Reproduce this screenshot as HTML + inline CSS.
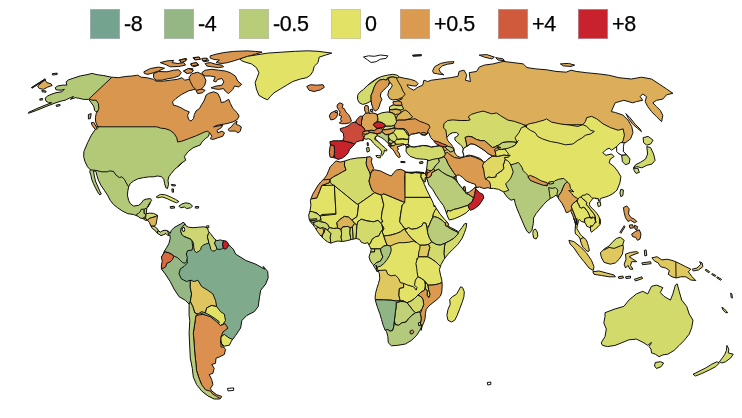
<!DOCTYPE html>
<html><head><meta charset="utf-8"><title>Map</title>
<style>
html,body{margin:0;padding:0;background:#fff;}
body{width:742px;height:418px;position:relative;overflow:hidden;font-family:"Liberation Sans",Arial,sans-serif;}
.sw{position:absolute;top:9px;width:30px;height:30px;box-sizing:border-box;border:1px solid rgba(185,185,200,0.55);}
.lb{position:absolute;top:12.5px;font-size:21.5px;line-height:22px;color:#000;white-space:nowrap;letter-spacing:-0.4px;-webkit-text-stroke:0.25px #000;}
svg{position:absolute;left:0;top:0;}
svg path{stroke:#111;stroke-width:1;stroke-linejoin:round;}
</style></head><body>
<div class="sw" style="left:90px;background:#74a38f"></div><div class="lb" style="left:124px">-8</div>
<div class="sw" style="left:164px;background:#95b783"></div><div class="lb" style="left:198px">-4</div>
<div class="sw" style="left:239px;background:#b9cc7a"></div><div class="lb" style="left:273px">-0.5</div>
<div class="sw" style="left:331px;background:#e2e266"></div><div class="lb" style="left:365px">0</div>
<div class="sw" style="left:400px;background:#da9a50"></div><div class="lb" style="left:434px">+0.5</div>
<div class="sw" style="left:498px;background:#cf5a3c"></div><div class="lb" style="left:532px">+4</div>
<div class="sw" style="left:578px;background:#c8232d"></div><div class="lb" style="left:612px">+8</div>

<svg width="742" height="418" viewBox="0 0 742 418">
<defs><clipPath id="c0_0"><path d="M112.1,77.2L118.4,77.7L125.1,76.5L131.8,76.0L137.7,75.2L141.1,77.2L146.9,77.7L153.6,79.4L156.1,81.1L163.7,81.1L170.4,80.2L177.1,79.4L182.1,77.7L184.6,80.2L188.8,79.4L193.0,76.0L195.5,72.7L196.9,76.0L195.5,80.2L198.0,81.9L197.7,82.5L200.2,85.1L199.4,86.7L195.2,89.2L188.5,90.9L181.8,94.3L175.9,98.5L172.6,101.8L173.4,105.2L176.8,106.0L180.9,107.7L185.1,110.2L189.3,111.9L187.6,115.2L188.5,119.4L191.0,121.1L193.5,118.6L194.4,114.4L196.0,111.0L199.4,108.5L201.9,104.3L204.4,100.1L206.1,95.1L208.6,93.4L213.6,91.8L217.8,93.4L220.3,98.5L221.2,102.6L224.5,101.8L228.7,99.3L230.4,103.5L232.9,108.5L237.1,112.7L239.1,116.1L237.4,119.4L232.9,121.9L227.0,123.6L222.0,124.4L217.0,125.3L213.6,126.9L217.8,126.1L222.8,125.3L221.2,127.8L217.0,130.3L217.8,132.8L222.0,131.1L224.5,132.8L222.8,136.2L217.8,137.8L212.8,139.5L210.3,138.7L211.9,136.2L210.3,133.6L209.4,132.8L208.6,136.2L205.2,138.7L201.9,142.0L200.2,145.0L193.2,147.7L188.2,151.5L184.4,156.5L185.7,160.3L181.9,162.8L178.1,166.6L182.2,162.6L178.9,165.9L174.7,169.3L171.3,173.5L168.8,176.8L168.0,180.2L168.5,184.4L167.5,188.5L165.8,187.7L164.6,183.5L163.8,179.3L161.3,176.5L157.1,176.0L153.7,176.8L149.5,176.8L143.7,177.6L137.8,178.8L133.6,181.0L130.3,183.5L128.6,186.9L127.8,191.1L127.4,195.2L128.6,200.3L130.3,203.6L133.6,206.1L138.6,205.3L141.2,203.3L143.3,200.3L146.2,199.1L150.4,198.6L151.7,200.3L149.5,203.3L147.9,207.0L150.4,202.5L148.1,205.9L146.8,208.4L146.4,212.6L146.4,213.8L149.3,213.1L153.5,213.4L157.6,215.4L156.8,220.1L156.0,224.3L154.3,226.2L156.8,228.2L158.5,230.5L160.2,232.2L162.7,230.7L166.0,230.2L168.9,231.5L170.2,233.5L171.2,230.7L173.9,227.7L177.8,225.5L181.1,223.8L183.0,222.3L184.6,223.2L186.1,226.0L188.6,227.2L193.7,227.7L198.7,227.2L203.7,226.8L207.4,227.7L208.4,231.0L210.4,233.5L212.4,236.1L214.6,239.1L216.8,240.6L220.5,239.9L222.5,240.6L226.4,241.1L228.9,244.8L233.2,249.1L235.7,254.1L245.7,260.4L255.8,264.2L264.6,269.2L263.2,266.4L267.7,271.4L268.2,277.7L265.7,284.0L260.7,290.3L259.4,297.8L258.2,306.6L254.4,311.6L246.9,315.4L241.9,320.4L240.6,328.0L235.6,335.5L231.8,340.5L231.0,341.9L229.3,345.2L224.3,346.2L221.0,343.2L220.5,340.6L222.5,345.7L225.5,349.4L224.3,354.5L219.2,357.0L216.0,358.2L215.5,363.3L211.7,364.5L214.2,368.3L212.9,373.3L209.2,374.6L211.7,379.6L212.9,384.6L210.4,388.4L211.7,390.9L216.7,394.7L221.7,396.4L220.5,398.5L219.2,399.0L214.2,399.0L207.9,395.9L201.6,390.9L196.6,384.6L193.3,377.1L192.3,368.3L190.3,358.2L189.8,348.2L189.1,333.1L189.8,320.5L189.1,315.4L189.1,305.4L189.1,304.1L185.3,300.3L179.0,296.6L174.0,289.0L170.2,281.5L165.2,273.9L161.4,268.9L161.4,265.1L162.2,261.4L161.4,256.3L162.2,256.2L164.4,251.1L166.5,247.8L168.9,243.6L170.2,238.6L169.9,234.9L167.9,235.6L166.0,233.5L163.5,234.7L161.0,235.6L158.8,234.2L156.8,232.7L154.8,230.2L152.3,228.5L150.9,226.0L149.4,222.6L147.8,220.5L144.7,220.1L143.1,218.5L140.1,218.0L138.0,216.3L133.6,214.5L127.8,213.7L122.7,211.2L117.7,207.8L113.5,204.5L110.2,200.3L107.6,195.2L104.3,190.2L100.9,185.2L98.4,180.2L96.8,175.1L95.9,171.4L93.4,170.8L94.2,175.1L95.4,181.0L97.6,186.0L99.8,191.1L101.3,193.9L99.8,194.9L97.6,191.9L95.4,187.7L93.4,183.5L91.7,179.3L90.9,175.1L89.7,171.8L90.4,169.8L87.5,166.8L85.0,161.7L83.7,156.7L83.9,151.5L87.6,142.7L91.4,135.1L95.2,129.6L97.2,126.3L98.8,127.0L97.4,126.2L95.7,122.0L95.4,117.8L96.2,113.6L97.4,111.1L96.2,111.9L94.6,110.3L93.7,106.1L91.2,102.7L88.7,99.4L83.7,99.4L78.6,98.2L75.3,97.7L70.3,99.4L73.6,96.5L70.3,97.7L65.2,100.2L61.1,101.1L56.0,102.7L45.1,106.9L36.8,110.3L28.4,113.3L28.7,112.3L36.8,108.6L45.1,105.2L51.8,102.7L48.5,102.7L46.0,101.1L45.1,98.2L47.6,96.0L51.0,94.4L56.0,92.7L61.9,91.8L64.4,89.3L61.1,90.2L56.0,89.8L55.2,87.6L57.7,86.0L62.7,85.1L66.9,85.1L66.1,81.8L68.6,79.8L73.6,78.1L80.3,75.9L87.0,74.7L92.1,73.4L97.1,74.7L103.8,75.6L111.8,77.3Z"/></clipPath><clipPath id="c1_0"><path d="M336.0,160.9L340.2,162.1L345.2,160.9L350.3,159.2L357.0,158.0L365.4,157.5L367.0,157.0L370.0,156.7L372.1,158.4L371.2,161.7L372.4,165.1L373.7,168.4L372.1,170.9L374.6,169.8L380.4,170.9L387.1,174.3L391.3,176.0L393.8,172.6L396.4,170.1L400.5,169.3L404.7,170.9L405.6,172.6L410.6,172.6L417.3,171.8L424.0,172.6L405.0,172.1L408.4,172.6L411.7,173.5L415.1,172.6L418.4,173.0L421.4,173.3L420.8,177.0L423.5,182.2L424.3,184.4L426.8,190.2L430.2,196.9L432.7,201.9L434.4,207.0L434.4,205.0L436.9,209.2L440.2,214.2L444.4,219.2L446.9,221.8L448.6,224.3L448.1,225.9L450.3,227.3L455.3,229.8L458.6,231.8L462.0,227.6L464.5,223.8L466.7,223.4L466.2,227.6L464.5,232.6L462.0,238.5L457.8,244.4L452.8,249.4L447.8,254.4L443.9,259.5L441.1,264.5L439.4,269.5L440.5,275.1L441.8,280.1L442.2,285.1L441.8,291.8L440.5,296.0L437.1,299.4L432.9,302.7L428.8,306.1L426.2,309.4L425.4,313.6L425.1,318.6L423.7,322.8L422.1,326.2L421.2,330.4L421.7,326.4L419.9,330.2L416.7,335.2L411.6,340.3L405.4,344.0L397.8,345.3L391.5,345.8L388.3,342.8L387.8,336.5L386.5,331.5L385.2,330.4L383.2,325.3L381.5,319.5L379.8,313.6L377.6,307.7L376.0,302.7L375.1,298.5L375.5,293.5L376.8,288.5L378.5,283.4L379.8,278.4L379.3,273.4L377.6,269.2L376.0,265.0L377.4,272.0L375.4,268.7L372.9,264.5L370.4,261.1L369.0,256.9L370.4,252.8L371.2,249.4L369.5,246.1L367.9,242.7L364.5,243.5L361.2,242.2L359.5,239.4L356.1,238.5L351.9,239.4L347.8,240.5L342.7,241.5L337.7,241.0L333.5,242.2L331.0,243.2L327.6,241.9L324.3,239.4L320.9,236.0L317.6,231.8L315.1,227.6L312.6,224.3L310.4,221.8L309.2,219.2L308.7,215.1L310.1,210.4L310.1,210.3L310.9,205.3L310.4,200.3L311.4,197.8L312.6,194.4L315.1,190.2L317.6,186.0L320.9,181.8L324.3,178.5L326.8,175.1L328.5,170.9L330.2,166.8L332.7,164.2Z"/></clipPath><clipPath id="c2_0"><path d="M421.3,173.5L420.9,176.8L424.1,181.7L425.0,182.2L426.0,179.3L426.5,178.2L427.0,178.8L428.8,185.0L432.7,189.4L436.0,195.2L439.4,200.3L443.2,205.3L445.2,209.5L446.9,214.5L447.8,217.0L449.4,220.0L454.5,218.7L460.3,216.2L466.2,212.8L469.5,209.5L470.4,210.3L474.6,208.6L478.8,205.3L481.3,201.9L483.8,197.8L482.9,194.4L479.6,192.7L476.2,189.4L475.1,187.2L472.9,189.4L469.5,191.9L466.2,193.2L465.7,191.1L465.0,186.5L463.3,186.9L463.3,189.4L461.2,186.9L457.8,182.7L456.1,178.8L456.1,176.5L457.0,175.1L459.5,175.1L462.8,177.6L466.2,181.0L470.4,182.7L475.4,184.4L476.2,187.7L479.6,186.9L483.8,188.5L488.0,187.7L490.5,188.5L493.4,188.4L498.4,189.3L503.5,191.8L505.1,194.3L507.6,197.6L511.0,200.2L514.4,199.3L515.2,203.5L516.9,208.5L519.4,214.4L521.9,220.3L524.4,226.1L526.9,231.2L529.4,233.3L531.9,230.3L533.3,223.6L533.6,217.8L536.1,213.6L539.5,209.4L543.7,204.4L547.0,201.0L550.4,198.5L553.7,196.8L556.2,195.1L557.9,197.6L559.6,200.2L562.1,203.5L564.6,208.5L566.3,212.7L568.8,211.9L571.3,209.4L570.9,211.4L572.6,215.1L573.8,218.5L575.1,221.8L575.9,225.0L573.8,218.4L575.1,221.7L575.5,225.1L575.2,228.4L575.1,231.8L575.5,233.9L577.2,235.1L578.9,236.8L580.1,238.9L580.5,241.0L581.4,243.9L583.0,247.3L585.1,249.4L587.2,251.2L588.9,251.2L589.3,250.0L588.5,246.4L587.6,243.5L586.8,241.0L585.6,239.3L583.9,237.6L582.2,236.4L580.5,234.7L579.3,232.6L578.0,230.5L576.8,228.4L577.2,225.9L578.0,223.4L578.4,220.2L579.7,219.6L580.5,220.9L581.8,221.7L583.9,222.1L584.7,223.0L585.6,223.4L586.8,226.3L588.9,227.1L590.6,228.4L590.6,230.5L591.4,232.2L593.1,230.9L595.6,228.8L598.1,226.7L600.2,224.2L600.6,221.7L599.8,218.4L599.4,223.5L599.8,220.2L599.0,216.8L597.3,213.9L595.2,211.4L592.7,208.9L590.6,206.8L589.3,204.7L589.7,202.6L591.4,200.5L592.7,198.4L594.4,198.0L596.9,198.8L598.1,198.4L598.5,200.9L600.0,201.1L600.2,198.8L601.9,198.0L605.2,197.1L608.6,195.9L611.9,194.2L615.3,191.7L617.0,190.0L619.9,182.9L620.9,176.6L617.9,171.6L614.1,166.6L609.1,162.8L610.4,159.0L614.1,156.5L611.6,154.0L605.9,155.3L602.8,152.8L605.9,149.7L609.1,148.2L611.6,150.2L616.7,146.5L616.7,151.5L619.2,154.0L621.7,155.3L622.4,161.6L625.5,164.8L629.2,163.3L630.0,159.0L626.7,154.8L623.4,151.5L623.4,146.5L624.2,142.7L625.5,142.7L630.5,138.9L633.0,132.6L631.7,126.4L628.0,120.1L622.9,115.1L615.4,112.5L611.3,111.6L615.1,102.8L623.9,100.3L632.7,102.8L636.4,101.6L642.7,100.3L640.2,96.6L642.7,94.0L646.5,96.6L645.2,101.6L647.7,106.6L651.5,111.6L656.5,116.7L661.6,121.7L662.8,115.4L660.3,110.4L656.5,106.6L652.8,102.8L656.5,100.3L662.8,99.1L666.6,94.8L672.9,93.3L666.6,89.0L659.1,84.0L651.5,79.0L641.5,77.2L631.4,79.0L618.8,77.7L608.8,75.2L598.7,73.9L586.2,72.7L576.1,71.4L571.1,70.2L566.1,72.2L556.0,71.4L545.8,69.7L535.8,68.9L527.0,67.6L523.2,63.9L513.2,62.6L503.1,61.4L493.1,63.9L484.3,65.1L479.2,67.1L476.7,71.4L469.2,72.7L470.4,81.5L465.4,80.2L466.7,75.2L464.1,70.2L459.1,71.4L457.9,76.4L450.3,77.7L440.3,79.0L431.5,80.2L427.7,81.5L423.9,80.2L422.7,85.2L418.8,86.8L417.1,87.7L413.8,90.2L410.4,88.5L407.9,86.8L407.1,84.8L413.8,86.0L416.3,86.0L418.0,83.5L415.5,81.0L410.4,79.3L403.7,78.1L399.5,77.1L397.0,75.1L392.8,74.3L387.8,75.1L381.9,76.4L376.9,78.5L371.9,81.8L367.7,85.2L363.5,89.4L359.3,92.7L357.6,95.2L357.6,99.4L359.3,102.8L362.7,104.4L366.0,103.6L369.4,101.9L371.1,101.1L371.9,105.3L373.2,108.6L375.2,111.1L377.8,109.5L379.4,106.1L380.3,102.8L381.9,99.4L380.3,96.1L381.1,92.7L383.6,90.2L386.1,87.7L388.6,85.2L389.8,82.1L392.3,85.2L391.2,87.7L388.6,91.0L387.8,95.2L389.5,98.6L392.8,99.9L397.9,99.4L402.1,97.7L402.1,98.9L399.5,99.9L397.0,101.1L392.8,101.9L393.7,104.4L389.5,106.9L389.5,109.0L389.5,112.0L387.0,112.0L381.9,112.8L377.8,114.5L372.7,112.8L369.4,113.6L368.5,109.5L368.2,106.1L366.0,105.3L364.4,106.9L364.9,111.1L366.0,112.8L362.7,116.2L360.2,116.2L356.8,119.5L355.1,122.9L355.8,121.8L351.5,123.0L348.9,125.5L344.6,127.4L340.2,128.7L340.8,131.2L343.3,133.1L343.9,137.5L342.7,140.8L338.3,140.8L333.3,140.8L329.8,141.8L330.5,145.0L329.8,148.1L329.3,152.5L330.1,157.1L333.0,157.5L335.2,158.1L338.3,159.4L342.1,158.1L345.8,155.6L348.3,152.5L349.6,149.4L352.1,146.9L354.3,144.6L356.5,141.8L360.2,140.8L363.4,140.6L364.0,138.3L365.9,139.3L368.4,138.7L371.1,140.0L373.4,143.1L376.5,146.2L379.7,148.7L381.9,151.9L380.9,154.4L382.2,155.6L384.0,152.5L384.4,150.0L386.2,151.2L387.2,150.0L384.7,147.5L381.5,145.0L378.4,141.8L375.9,139.3L375.3,136.8L377.8,135.8L380.3,137.1L382.2,138.1L384.7,140.0L387.8,143.1L389.1,144.3L388.4,145.4L389.7,146.5L390.7,147.9L392.2,148.7L394.1,151.2L395.9,154.4L398.5,157.5L400.3,156.9L399.1,153.1L397.0,150.4L398.5,149.4L397.2,146.9L399.7,146.2L402.2,145.0L403.2,145.0L405.0,144.3L406.3,146.9L406.0,151.2L407.5,153.7L410.1,156.3L416.8,158.7L423.5,159.2L427.6,159.7L427.1,165.1L426.5,169.8L425.5,173.3Z"/></clipPath><clipPath id="c3_0"><path d="M600.3,252.9L604.1,249.1L609.1,245.9L612.9,241.6L616.7,238.3L620.4,237.3L624.2,240.3L622.9,244.1L623.4,247.9L622.4,254.1L619.2,259.2L615.4,262.9L610.4,264.2L604.1,262.4L601.6,257.9Z"/></clipPath><clipPath id="c3_1"><path d="M651.9,257.9L656.9,256.7L661.9,259.9L666.9,259.2L672.0,260.4L675.7,261.7L680.8,264.2L685.8,266.7L690.8,269.2L688.3,271.7L692.1,276.8L695.8,280.5L690.8,280.0L685.8,276.8L680.8,276.8L676.2,278.0L672.0,276.8L668.2,274.3L669.4,270.5L665.7,268.0L660.6,266.7L658.1,262.9L654.4,260.9Z"/></clipPath></defs>
<g clip-path="url(#c0_0)">
<path fill="#d8964e" d="M0.0,40.0L330.0,40.0L330.0,418.0L0.0,418.0Z"/>
<path fill="#7fab8c" d="M155.1,235.0L280.8,235.0L280.8,345.6L205.4,345.6L205.4,315.4L155.1,290.3Z"/>
<path fill="#b2c977" d="M75.1,126.8L156.8,126.8L160.5,128.1L165.0,128.6L170.1,130.3L174.2,133.6L176.8,137.8L177.6,142.0L181.8,141.2L188.5,138.7L195.2,136.2L201.1,133.6L204.4,132.0L207.8,131.1L209.4,132.8L210.3,134.0L209.6,137.0L211.9,147.1L220.9,192.9L75.1,192.9Z"/>
<path fill="#b2c977" d="M111.8,77.3L89.0,98.9L92.1,100.2L96.2,100.2L98.4,103.6L98.8,108.6L97.4,111.9L92.1,115.3L20.0,117.0L20.0,68.4L103.8,68.4Z"/>
<path fill="#b2c977" d="M86.7,169.8L90.4,169.8L95.9,170.4L101.8,171.8L107.6,171.8L109.3,170.9L113.5,171.4L116.0,175.1L119.4,177.6L121.9,176.8L124.4,179.3L126.1,182.7L128.6,186.9L133.6,187.7L163.8,200.3L163.8,225.4L86.7,225.4Z"/>
<path fill="#b9cc7a" d="M136.7,214.3L138.4,213.4L140.1,211.8L141.4,209.2L144.2,209.2L144.2,213.4L145.9,214.3L145.9,215.9L143.4,218.0L140.1,220.1L136.7,218.5Z"/>
<path fill="#b9cc7a" d="M144.2,209.2L146.4,208.1L148.4,210.1L146.8,213.4L145.9,214.3L144.2,213.4Z"/>
<path fill="#d3d972" d="M145.9,214.3L146.8,212.6L153.5,211.8L159.3,214.3L156.8,215.8L155.1,216.8L151.8,217.6L149.3,218.5L147.6,220.1L145.4,218.5L145.9,215.9Z"/>
<path fill="#b9cc7a" d="M143.4,218.0L145.4,218.5L147.6,220.1L146.8,221.8L142.6,221.0Z"/>
<path fill="#dcb458" d="M147.6,220.1L149.3,218.5L151.8,217.6L155.1,216.8L156.8,215.8L160.2,215.1L158.5,224.3L154.3,226.3L151.4,226.0L146.8,222.6Z"/>
<path fill="#b9cc7a" d="M151.4,226.0L154.3,226.3L158.5,225.2L160.2,231.0L157.6,231.0L157.1,234.4L150.1,228.5Z"/>
<path fill="#b9cc7a" d="M157.6,231.0L160.2,231.0L162.7,229.4L166.0,228.8L169.4,230.5L169.9,234.4L170.2,236.9L160.2,236.9L157.1,234.4Z"/>
<path fill="#95b783" d="M155.1,263.9L155.1,250.1L185.8,250.1L187.3,263.1L184.0,266.4L180.3,268.9L179.0,273.9L181.5,279.0L186.6,281.5L190.3,280.2L190.3,287.8L191.6,294.0L190.3,301.6L189.1,305.9L180.3,305.4L155.1,277.7Z"/>
<path fill="#95b783" d="M165.6,252.0L162.5,251.3L162.5,238.8L169.4,236.9L168.1,232.5L166.9,229.8L167.5,223.8L183.8,220.0L186.9,223.1L185.1,223.8L183.2,226.3L181.3,228.1L180.7,231.3L181.9,234.4L183.8,236.3L186.9,237.5L190.1,238.8L192.0,240.7L192.3,243.8L192.8,246.9L192.0,250.1L187.6,250.7L186.3,253.8L187.3,257.6L186.6,261.4L185.1,263.2L182.6,262.6L180.7,260.7L177.5,257.6L174.4,256.3L171.9,254.5L168.8,252.8Z"/>
<path fill="#cdd672" d="M185.1,223.8L186.9,222.5L210.1,222.5L210.1,231.3L208.3,233.8L207.4,236.9L208.3,240.1L208.9,243.2L206.4,243.8L203.2,245.1L201.4,246.9L200.7,249.5L198.9,251.3L196.3,252.6L194.5,250.7L193.8,247.6L193.6,243.8L192.3,240.7L190.1,238.8L186.9,237.5L183.8,236.3L181.9,234.4L180.7,231.3L181.3,228.1L183.2,226.3Z"/>
<path fill="#ffffff" d="M182.7,227.8L184.1,227.3L184.7,229.4L184.2,231.5L182.9,231.3L182.4,229.4Z"/>
<path fill="#cdd672" d="M208.3,233.8L210.1,231.3L215.1,232.5L216.4,240.1L215.8,240.7L214.5,243.2L215.8,245.7L217.0,248.8L215.1,250.7L212.6,251.1L210.8,249.5L210.1,246.3L208.9,243.2L208.3,240.1L207.4,236.9Z"/>
<path fill="#86ae92" d="M215.8,240.7L216.4,237.5L222.7,237.5L223.3,241.3L222.7,244.4L223.3,247.6L221.4,249.1L218.9,249.5L217.0,248.8L215.8,245.7L214.5,243.2Z"/>
<path fill="#c8232d" d="M223.3,241.3L223.3,238.8L230.2,240.1L228.7,244.4L227.7,246.9L225.8,249.1L223.7,248.8L223.3,247.6L222.7,244.4Z"/>
<path fill="#d56a3f" d="M157.5,257.6L163.8,253.2L165.6,252.0L168.8,252.8L171.9,254.5L173.8,256.3L172.5,259.5L170.0,262.0L166.9,263.2L165.6,267.0L163.1,268.3L157.5,268.3Z"/>
<path fill="#dfc55f" d="M190.3,280.2L194.1,281.5L197.9,280.2L201.6,286.5L207.9,290.3L212.9,294.0L215.5,300.3L216.7,306.6L211.7,305.4L206.7,307.9L205.4,312.9L201.6,311.6L197.9,314.1L194.8,312.9L192.8,306.6L190.3,301.6L191.6,294.0L190.3,287.8Z"/>
<path fill="#e2e266" d="M206.7,307.9L211.7,305.4L216.7,306.6L220.5,311.6L224.3,314.1L225.5,320.4L223.0,324.2L218.0,326.7L219.2,321.7L214.2,317.9L207.9,314.1L205.4,312.9Z"/>
<path fill="#dc9050" d="M195.9,315.5L202.9,314.3L210.4,316.8L216.7,321.8L220.5,325.6L225.0,323.6L228.0,328.1L223.0,331.9L221.0,336.9L221.0,343.2L235.6,345.7L235.6,403.5L205.4,403.5L201.6,384.6L199.1,378.4L196.6,370.8L195.9,363.3L194.8,353.2L194.1,343.2L193.3,333.1L194.8,323.1Z"/>
<path fill="#b9cc7a" d="M189.1,304.1L190.3,301.6L192.8,306.6L194.8,312.9L197.9,314.1L195.9,315.5L194.8,323.1L193.3,333.1L194.1,343.2L194.8,353.2L195.9,363.3L196.6,370.8L199.1,378.4L201.6,384.6L205.4,389.7L210.9,391.4L212.4,393.9L216.7,396.4L221.7,399.7L205.4,403.5L180.3,388.4L180.3,313.0Z"/>
<path fill="#e2e266" d="M221.0,336.9L224.3,334.4L229.3,338.1L235.6,340.6L235.6,348.2L221.0,346.9Z"/>
</g>
<path fill="none" d="M112.1,77.2L118.4,77.7L125.1,76.5L131.8,76.0L137.7,75.2L141.1,77.2L146.9,77.7L153.6,79.4L156.1,81.1L163.7,81.1L170.4,80.2L177.1,79.4L182.1,77.7L184.6,80.2L188.8,79.4L193.0,76.0L195.5,72.7L196.9,76.0L195.5,80.2L198.0,81.9L197.7,82.5L200.2,85.1L199.4,86.7L195.2,89.2L188.5,90.9L181.8,94.3L175.9,98.5L172.6,101.8L173.4,105.2L176.8,106.0L180.9,107.7L185.1,110.2L189.3,111.9L187.6,115.2L188.5,119.4L191.0,121.1L193.5,118.6L194.4,114.4L196.0,111.0L199.4,108.5L201.9,104.3L204.4,100.1L206.1,95.1L208.6,93.4L213.6,91.8L217.8,93.4L220.3,98.5L221.2,102.6L224.5,101.8L228.7,99.3L230.4,103.5L232.9,108.5L237.1,112.7L239.1,116.1L237.4,119.4L232.9,121.9L227.0,123.6L222.0,124.4L217.0,125.3L213.6,126.9L217.8,126.1L222.8,125.3L221.2,127.8L217.0,130.3L217.8,132.8L222.0,131.1L224.5,132.8L222.8,136.2L217.8,137.8L212.8,139.5L210.3,138.7L211.9,136.2L210.3,133.6L209.4,132.8L208.6,136.2L205.2,138.7L201.9,142.0L200.2,145.0L193.2,147.7L188.2,151.5L184.4,156.5L185.7,160.3L181.9,162.8L178.1,166.6L182.2,162.6L178.9,165.9L174.7,169.3L171.3,173.5L168.8,176.8L168.0,180.2L168.5,184.4L167.5,188.5L165.8,187.7L164.6,183.5L163.8,179.3L161.3,176.5L157.1,176.0L153.7,176.8L149.5,176.8L143.7,177.6L137.8,178.8L133.6,181.0L130.3,183.5L128.6,186.9L127.8,191.1L127.4,195.2L128.6,200.3L130.3,203.6L133.6,206.1L138.6,205.3L141.2,203.3L143.3,200.3L146.2,199.1L150.4,198.6L151.7,200.3L149.5,203.3L147.9,207.0L150.4,202.5L148.1,205.9L146.8,208.4L146.4,212.6L146.4,213.8L149.3,213.1L153.5,213.4L157.6,215.4L156.8,220.1L156.0,224.3L154.3,226.2L156.8,228.2L158.5,230.5L160.2,232.2L162.7,230.7L166.0,230.2L168.9,231.5L170.2,233.5L171.2,230.7L173.9,227.7L177.8,225.5L181.1,223.8L183.0,222.3L184.6,223.2L186.1,226.0L188.6,227.2L193.7,227.7L198.7,227.2L203.7,226.8L207.4,227.7L208.4,231.0L210.4,233.5L212.4,236.1L214.6,239.1L216.8,240.6L220.5,239.9L222.5,240.6L226.4,241.1L228.9,244.8L233.2,249.1L235.7,254.1L245.7,260.4L255.8,264.2L264.6,269.2L263.2,266.4L267.7,271.4L268.2,277.7L265.7,284.0L260.7,290.3L259.4,297.8L258.2,306.6L254.4,311.6L246.9,315.4L241.9,320.4L240.6,328.0L235.6,335.5L231.8,340.5L231.0,341.9L229.3,345.2L224.3,346.2L221.0,343.2L220.5,340.6L222.5,345.7L225.5,349.4L224.3,354.5L219.2,357.0L216.0,358.2L215.5,363.3L211.7,364.5L214.2,368.3L212.9,373.3L209.2,374.6L211.7,379.6L212.9,384.6L210.4,388.4L211.7,390.9L216.7,394.7L221.7,396.4L220.5,398.5L219.2,399.0L214.2,399.0L207.9,395.9L201.6,390.9L196.6,384.6L193.3,377.1L192.3,368.3L190.3,358.2L189.8,348.2L189.1,333.1L189.8,320.5L189.1,315.4L189.1,305.4L189.1,304.1L185.3,300.3L179.0,296.6L174.0,289.0L170.2,281.5L165.2,273.9L161.4,268.9L161.4,265.1L162.2,261.4L161.4,256.3L162.2,256.2L164.4,251.1L166.5,247.8L168.9,243.6L170.2,238.6L169.9,234.9L167.9,235.6L166.0,233.5L163.5,234.7L161.0,235.6L158.8,234.2L156.8,232.7L154.8,230.2L152.3,228.5L150.9,226.0L149.4,222.6L147.8,220.5L144.7,220.1L143.1,218.5L140.1,218.0L138.0,216.3L133.6,214.5L127.8,213.7L122.7,211.2L117.7,207.8L113.5,204.5L110.2,200.3L107.6,195.2L104.3,190.2L100.9,185.2L98.4,180.2L96.8,175.1L95.9,171.4L93.4,170.8L94.2,175.1L95.4,181.0L97.6,186.0L99.8,191.1L101.3,193.9L99.8,194.9L97.6,191.9L95.4,187.7L93.4,183.5L91.7,179.3L90.9,175.1L89.7,171.8L90.4,169.8L87.5,166.8L85.0,161.7L83.7,156.7L83.9,151.5L87.6,142.7L91.4,135.1L95.2,129.6L97.2,126.3L98.8,127.0L97.4,126.2L95.7,122.0L95.4,117.8L96.2,113.6L97.4,111.1L96.2,111.9L94.6,110.3L93.7,106.1L91.2,102.7L88.7,99.4L83.7,99.4L78.6,98.2L75.3,97.7L70.3,99.4L73.6,96.5L70.3,97.7L65.2,100.2L61.1,101.1L56.0,102.7L45.1,106.9L36.8,110.3L28.4,113.3L28.7,112.3L36.8,108.6L45.1,105.2L51.8,102.7L48.5,102.7L46.0,101.1L45.1,98.2L47.6,96.0L51.0,94.4L56.0,92.7L61.9,91.8L64.4,89.3L61.1,90.2L56.0,89.8L55.2,87.6L57.7,86.0L62.7,85.1L66.9,85.1L66.1,81.8L68.6,79.8L73.6,78.1L80.3,75.9L87.0,74.7L92.1,73.4L97.1,74.7L103.8,75.6L111.8,77.3Z"/>
<path fill="#e2e266" d="M156.2,196.9L160.4,194.4L165.5,194.9L170.5,196.9L175.5,199.4L178.9,201.6L176.4,202.8L172.2,201.1L167.1,198.6L162.1,196.9L157.9,197.8Z"/>
<path fill="#b9cc7a" d="M171.3,184.4L175.5,184.9L175.2,186.0L171.8,185.7Z"/>
<path fill="#b9cc7a" d="M171.8,188.9L173.5,188.9L173.5,192.2L172.2,192.2Z"/>
<path fill="#dcb458" d="M170.2,206.6L174.2,206.3L174.7,208.0L170.5,208.3Z"/>
<path fill="#b9cc7a" d="M178.9,206.1L181.9,204.0L185.6,202.8L189.8,203.6L192.6,206.1L190.6,207.8L186.4,208.6L184.7,207.0L180.5,207.8Z"/>
<path fill="#b9cc7a" d="M195.3,206.6L198.6,206.5L198.6,208.1L195.3,208.1Z"/>
<path fill="#e2e266" d="M206.2,226.0L208.8,225.7L208.8,227.7L206.4,227.7Z"/>
<path fill="#ffffff" d="M227.5,388.4L233.6,387.9L233.6,390.4L228.0,390.9Z"/>
<path fill="#b9cc7a" d="M52.2,73.7L57.2,73.1L57.2,74.4L52.7,75.1Z"/>
<path fill="#b9cc7a" d="M39.8,98.9L42.6,98.5L42.6,99.9L39.8,100.2Z"/>
<path fill="#b9cc7a" d="M41.8,90.5L46.0,91.0L46.0,92.2L42.1,91.8Z"/>
<path fill="#b9cc7a" d="M56.0,105.2L59.9,104.4L60.2,105.6L56.5,106.6Z"/>
<path fill="#d8964e" d="M88.4,114.5L91.2,113.6L90.4,118.6L88.4,119.0Z"/>
<path fill="#d8964e" d="M91.2,122.8L93.7,122.3L97.4,128.7L95.4,129.5L92.4,125.7Z"/>
<path fill="#d8964e" d="M143.9,71.8L150.3,68.5L158.6,67.1L164.5,68.2L158.6,71.0L153.6,72.7L147.8,74.4L144.4,73.5Z"/>
<path fill="#d8964e" d="M153.6,73.5L158.6,71.5L167.0,71.8L173.7,70.2L178.8,69.8L181.3,72.7L178.8,76.0L173.7,77.7L167.0,78.9L162.0,80.2L156.1,80.2L153.6,77.7Z"/>
<path fill="#d8964e" d="M160.3,62.6L167.0,60.9L173.7,60.4L172.1,62.6L177.9,63.5L183.8,62.6L185.5,65.1L178.8,66.5L170.4,66.8L166.2,64.8Z"/>
<path fill="#d8964e" d="M178.8,60.1L186.3,58.4L186.8,59.8L180.1,61.4Z"/>
<path fill="#d8964e" d="M193.0,57.6L198.9,57.1L200.5,59.3L194.7,59.8Z"/>
<path fill="#d8964e" d="M190.5,64.3L196.4,62.6L198.9,65.1L193.8,66.8Z"/>
<path fill="#d8964e" d="M183.8,71.0L188.8,68.5L193.0,68.8L191.3,71.8L186.3,73.2Z"/>
<path fill="#d8964e" d="M202.2,59.8L207.2,58.4L208.9,60.9L203.9,61.8Z"/>
<path fill="#d8964e" d="M210.2,55.9L216.0,54.2L223.6,52.6L233.6,51.4L247.0,50.9L255.4,51.4L262.1,52.1L255.4,54.2L247.0,56.8L240.3,58.8L233.6,60.9L227.8,62.6L221.9,63.5L216.0,62.6L219.4,60.1L213.5,59.3L210.2,58.1Z"/>
<path fill="#d8964e" d="M205.1,63.5L210.2,62.6L216.0,64.3L221.9,65.1L223.6,66.8L218.5,67.6L211.8,66.8L206.8,66.0Z"/>
<path fill="#d8964e" d="M194.2,57.6L199.3,57.1L200.1,59.3L195.1,59.8Z"/>
<path fill="#d8964e" d="M201.8,58.4L206.8,58.1L206.8,60.4L202.6,60.9Z"/>
<path fill="#d8964e" d="M190.9,63.5L196.8,62.6L197.6,65.1L191.7,66.0Z"/>
<path fill="#d8964e" d="M180.0,60.1L185.0,58.8L185.9,60.9L180.8,62.6Z"/>
<path fill="#d8964e" d="M201.8,72.7L205.1,70.2L211.8,69.3L218.5,70.2L225.2,71.0L230.3,72.7L235.3,76.0L237.8,81.1L241.7,84.4L238.6,86.9L234.5,86.1L232.8,89.4L228.6,93.6L225.2,91.1L223.6,88.6L218.5,89.4L213.5,88.6L211.0,87.8L216.0,86.1L221.9,85.2L223.9,81.9L221.9,78.5L217.7,79.4L216.0,81.9L213.5,81.1L215.2,76.9L210.2,76.0L205.1,76.0L202.6,74.4Z"/>
<path fill="#d8964e" d="M183.4,71.0L188.4,68.5L193.4,70.2L191.7,72.7L187.5,73.5Z"/>
<path fill="#d8964e" d="M195.9,90.3L200.1,88.6L205.1,90.3L202.6,92.8L197.6,93.6Z"/>
<path fill="#d8964e" d="M227.9,129.5L231.2,126.9L234.6,122.8L237.1,121.1L236.2,124.4L238.8,125.3L241.3,126.9L240.4,131.1L237.9,132.8L235.4,131.1L232.1,131.1L229.5,131.1Z"/>
<path fill="#d8964e" d="M189.0,77.7L191.5,73.9L197.8,72.2L203.3,75.2L205.9,80.2L204.8,85.2L201.6,89.0L196.6,90.3L192.8,86.5L190.3,81.5Z"/>
<path fill="#e2e266" d="M240.1,58.9L247.6,56.3L255.1,55.1L267.7,53.1L282.8,52.1L295.4,51.3L307.9,50.8L318.0,51.3L331.8,53.1L325.5,55.1L319.2,57.1L318.0,62.6L314.2,66.4L312.9,71.4L310.4,75.2L306.7,77.7L300.4,79.0L292.8,81.5L286.6,85.2L280.3,89.0L274.0,92.8L270.2,96.6L267.7,99.8L263.9,98.3L258.9,95.3L256.4,89.0L255.1,82.7L257.1,77.7L258.9,72.7L256.4,67.6L251.4,63.9L245.1,62.1L241.3,60.6Z"/>
<path fill="#da8a4a" d="M306.7,86.5L310.4,84.7L316.7,85.2L323.0,84.7L324.3,87.3L320.5,89.8L314.2,91.5L309.2,90.3Z"/>
<path fill="#dcae5a" d="M37.6,86.0L45.1,79.8L46.8,82.6L51.0,83.8L52.2,85.5L47.6,87.1L43.5,89.3L39.3,88.5Z"/>
<path fill="#222" d="M31.4,87.6L45.1,78.8L45.5,79.4L32.1,88.2Z"/>
<g clip-path="url(#c1_0)">
<path fill="#e2e266" d="M290.0,150.0L480.0,150.0L480.0,350.0L290.0,350.0Z"/>
<path fill="#da9a50" d="M336.0,159.2L345.2,159.2L344.4,165.1L346.1,170.1L342.7,171.8L338.5,174.3L333.5,176.8L330.2,179.3L329.3,182.7L321.8,185.5L320.1,190.2L318.4,194.4L316.8,198.1L311.4,198.9L306.7,198.9L306.7,159.2Z"/>
<path fill="#da9a50" d="M330.2,179.3L329.3,182.7L321.8,185.5L320.1,190.2L318.4,194.4L316.8,198.1L311.4,198.9L306.7,198.9L316.8,180.2Z"/>
<path fill="#d3da6c" d="M345.2,156.7L367.0,156.7L366.2,163.4L367.0,166.8L369.5,171.8L370.4,176.0L369.0,181.0L370.4,186.0L372.1,190.2L374.6,192.7L357.8,204.5L355.3,202.8L330.2,182.7L330.2,179.3L333.5,176.8L338.5,174.3L342.7,171.8L346.1,170.1L344.4,165.1Z"/>
<path fill="#da9a50" d="M367.0,155.9L373.7,155.9L374.6,168.4L372.1,170.9L370.7,173.5L369.5,171.8L367.0,166.8L366.2,163.4Z"/>
<path fill="#da984f" d="M370.7,173.5L372.1,170.9L374.6,168.4L407.2,166.8L405.6,172.6L404.7,176.8L405.6,202.8L403.1,201.9L383.8,193.9L381.3,195.2L374.6,192.7L372.1,190.2L370.4,186.0L369.0,181.0L370.4,176.0Z"/>
<path fill="#e2e266" d="M321.8,185.5L334.4,185.2L336.0,213.7L321.8,214.5L320.1,216.2L316.8,212.8L312.6,212.0L306.7,210.3L306.7,198.9L311.4,198.9L316.8,198.1L318.4,194.4L320.1,190.2Z"/>
<path fill="#e2e266" d="M334.4,185.7L355.3,202.8L357.8,204.5L358.6,205.0L357.8,211.7L357.0,216.7L351.9,220.1L348.6,217.1L344.4,216.4L340.2,219.2L336.9,222.6L337.7,228.1L333.5,228.5L329.3,227.6L327.6,224.3L325.1,222.6L320.9,221.8L320.9,219.2L320.1,215.9L336.0,214.2Z"/>
<path fill="#e2e266" d="M357.8,204.5L374.6,192.7L381.3,195.2L383.8,205.0L382.1,211.7L381.3,218.4L382.9,221.8L380.4,222.6L377.9,220.4L373.7,221.8L367.0,220.9L361.2,219.2L357.8,221.8L357.0,225.1L354.5,223.4L351.9,220.1L357.0,216.7L357.8,211.7L358.6,205.0Z"/>
<path fill="#e2e266" d="M381.3,195.2L383.8,193.9L403.1,201.9L405.6,202.8L402.2,205.0L400.5,215.1L399.7,221.8L404.7,228.5L400.5,231.8L396.4,233.5L390.5,235.2L383.8,236.0L382.1,231.8L383.8,228.5L382.1,225.1L380.4,222.6L382.9,221.8L381.3,218.4L382.1,211.7L383.8,205.0Z"/>
<path fill="#e2e266" d="M405.0,166.8L433.5,166.8L433.5,197.4L405.0,197.4Z"/>
<path fill="#e2e266" d="M405.9,197.4L433.5,197.4L443.6,220.4L436.0,211.7L433.5,213.4L432.7,217.6L431.0,220.9L429.3,225.1L426.8,227.6L426.0,223.4L423.5,222.6L421.8,225.9L416.8,228.5L411.7,229.3L408.4,227.6L405.0,230.1L408.9,228.5L404.7,228.5L399.7,221.8L400.5,215.1L402.2,205.0L404.7,202.8L405.0,197.4Z"/>
<path fill="#e2e266" d="M405.0,230.1L408.4,227.6L411.7,229.3L416.8,228.5L421.8,225.9L423.5,222.6L426.0,223.4L426.8,227.6L427.6,232.6L429.3,237.7L431.8,241.9L428.5,244.4L425.1,245.2L420.1,245.2L416.8,242.7L413.4,240.2L410.1,236.8L407.5,233.5Z"/>
<path fill="#e2e266" d="M433.5,213.4L436.0,208.4L443.6,215.1L450.3,223.4L445.2,223.4L441.9,220.1L437.7,217.6L434.4,216.7L432.7,217.6Z"/>
<path fill="#dcb458" d="M445.2,223.4L446.9,220.9L450.3,224.3L447.8,226.8L445.6,225.9Z"/>
<path fill="#b9cc7a" d="M432.7,217.6L434.4,216.7L437.7,217.6L441.9,220.1L445.2,223.4L445.6,225.9L447.8,226.8L450.3,228.5L455.3,231.0L458.6,232.6L457.8,234.3L453.6,238.5L449.4,241.0L445.2,243.2L440.2,245.2L436.0,244.4L431.8,241.9L429.3,237.7L427.6,232.6L427.6,228.5L429.3,225.1L431.0,220.9Z"/>
<path fill="#d3da6c" d="M447.8,226.8L448.6,223.4L470.4,220.1L467.0,238.5L444.9,262.0L443.9,253.6L444.4,246.9L445.2,243.2L449.4,241.0L453.6,238.5L457.8,234.3L458.6,232.6L455.3,231.0L450.3,228.5Z"/>
<path fill="#d3da6c" d="M428.5,244.4L431.8,241.9L436.0,244.4L440.2,245.2L445.2,243.2L444.4,246.9L443.9,253.6L444.9,258.6L446.9,262.0L440.2,268.7L436.0,262.0L431.0,258.6L427.6,256.9L428.5,251.9L429.8,247.7Z"/>
<path fill="#dfc85e" d="M420.1,245.2L425.1,245.2L428.5,244.4L429.8,247.7L428.5,251.9L427.6,256.9L422.6,256.9L418.4,256.9L418.8,251.9L419.8,248.6Z"/>
<path fill="#c6d472" d="M416.8,258.6L419.3,258.3L419.8,261.1L417.6,262.0Z"/>
<path fill="#d3da6c" d="M416.8,262.8L419.3,262.8L418.8,266.2L416.8,265.7Z"/>
<path fill="#e2e266" d="M418.4,256.9L427.6,256.9L431.0,258.6L436.0,262.0L440.2,266.2L450.3,268.7L450.5,281.8L442.2,282.6L437.1,284.3L432.1,285.1L427.9,285.1L425.4,281.8L424.6,280.9L421.2,278.4L417.9,276.7L417.0,271.7L416.8,268.7L415.9,263.6L416.8,260.3Z"/>
<path fill="#d3da6c" d="M306.7,210.9L312.6,211.7L316.8,213.4L320.1,215.9L320.9,219.2L318.4,220.9L315.9,221.8L312.6,222.6L310.4,221.8L306.7,220.1Z"/>
<path fill="#95b783" d="M308.4,219.4L316.8,218.7L316.8,220.1L308.4,220.8Z"/>
<path fill="#d3da6c" d="M308.4,221.8L314.2,222.3L313.4,224.3L311.7,224.8L308.4,224.3Z"/>
<path fill="#c6d472" d="M314.2,222.3L318.4,220.9L320.9,221.8L325.1,222.6L327.6,224.3L329.3,227.6L327.6,230.1L325.1,228.5L322.6,227.6L320.1,228.5L317.6,226.8L315.4,225.4L313.4,224.3Z"/>
<path fill="#dfc85e" d="M317.6,226.8L320.1,228.5L322.6,227.6L323.8,231.0L322.6,234.8L319.8,236.0L315.1,231.8Z"/>
<path fill="#d3da6c" d="M322.6,234.8L324.3,232.6L325.1,228.5L327.6,230.1L331.0,233.5L330.2,237.7L331.0,241.0L328.5,243.5L321.8,238.5Z"/>
<path fill="#d3da6c" d="M327.6,230.1L329.3,227.6L333.5,228.5L337.7,228.1L341.1,229.3L341.6,233.5L341.1,237.7L341.9,240.5L341.9,244.4L331.0,244.4L330.2,237.7L331.0,233.5Z"/>
<path fill="#d3da6c" d="M341.1,229.3L342.7,226.8L347.8,226.4L350.3,227.6L349.9,232.6L350.6,237.7L351.1,239.7L351.1,243.5L341.9,243.5L341.9,240.5L341.1,237.7L341.6,233.5Z"/>
<path fill="#d3da6c" d="M350.3,227.6L352.3,226.8L352.8,231.8L353.3,238.5L353.3,241.9L351.1,241.9L350.6,237.7L349.9,232.6Z"/>
<path fill="#d3da6c" d="M352.3,226.8L354.5,223.4L357.0,225.1L356.6,230.1L356.1,238.5L356.1,241.0L353.3,241.0L352.8,231.8Z"/>
<path fill="#dcb458" d="M336.9,222.6L340.2,219.2L344.4,216.4L348.6,217.1L351.9,220.1L354.5,223.4L352.3,226.8L350.3,227.6L347.8,226.4L342.7,226.8L341.1,229.3L337.7,228.1Z"/>
<path fill="#d3da6c" d="M357.0,225.1L357.8,221.8L361.2,219.2L367.0,220.9L373.7,221.8L377.9,220.4L380.4,222.6L382.1,225.1L382.9,229.3L380.4,232.6L378.8,236.0L375.4,236.8L372.1,239.4L370.4,243.5L367.0,246.1L355.3,245.2L356.1,238.5L356.6,230.1Z"/>
<path fill="#e2e266" d="M382.1,225.1L383.8,228.5L382.1,231.8L383.8,236.0L385.5,241.0L387.1,245.2L383.8,246.1L380.4,248.9L373.7,248.9L371.2,248.9L367.0,248.9L367.0,246.1L370.4,243.5L372.1,239.4L375.4,236.8L378.8,236.0L380.4,232.6L382.9,229.3Z"/>
<path fill="#dfc85e" d="M383.8,236.0L390.5,235.2L396.4,233.5L400.5,231.8L404.7,228.5L405.0,230.1L407.5,233.5L410.1,236.8L413.4,240.2L416.8,242.7L413.9,241.0L408.9,242.2L403.9,242.7L398.9,242.7L393.8,244.4L390.5,246.1L387.1,245.2L385.5,241.0Z"/>
<path fill="#d3da6c" d="M367.9,248.9L374.6,248.9L374.6,251.9L367.9,252.3Z"/>
<path fill="#c6d472" d="M367.0,252.3L374.6,251.9L374.6,248.9L380.4,248.9L381.3,252.8L382.9,256.9L380.4,261.1L376.2,262.8L372.9,266.2L367.0,262.0Z"/>
<path fill="#a9c47e" d="M380.4,248.9L383.8,246.1L387.1,245.2L390.5,246.1L391.3,250.2L389.6,255.3L387.1,259.5L383.8,263.6L380.4,266.2L377.4,267.0L375.4,270.4L372.1,267.0L376.2,262.8L380.4,261.1L382.9,256.9L381.3,252.8Z"/>
<path fill="#dfc85e" d="M373.5,270.9L386.0,270.0L387.7,274.2L391.1,275.9L395.2,275.1L398.6,278.4L400.3,282.6L403.6,283.4L403.6,287.6L399.4,288.5L398.9,295.2L400.3,301.0L396.1,301.0L391.1,300.2L383.5,299.9L375.5,299.4L371.8,299.4Z"/>
<path fill="#e2e266" d="M399.4,288.5L403.6,287.6L403.6,283.4L407.8,285.1L413.7,286.8L416.2,290.1L417.0,287.6L414.5,285.1L415.4,280.1L417.9,276.7L421.2,278.4L424.6,280.9L425.4,285.1L424.6,290.1L420.4,292.6L417.9,295.2L414.5,298.5L411.2,301.0L407.0,302.7L403.6,301.0L400.3,301.0L398.9,295.2Z"/>
<path fill="#d3da6c" d="M425.4,281.8L427.9,285.1L428.8,290.1L430.1,294.3L428.8,297.7L427.1,295.2L427.4,291.0L425.4,288.5L425.4,285.1Z"/>
<path fill="#da9a50" d="M427.9,285.1L432.1,285.1L437.1,284.3L442.2,282.6L447.2,282.6L447.2,298.5L427.1,328.7L422.1,326.2L420.4,323.6L421.2,318.6L420.4,313.6L422.1,308.6L423.7,304.4L422.9,299.4L421.2,296.8L417.9,295.2L420.4,292.6L424.6,290.1L425.4,288.5L427.4,291.0L427.1,295.2L428.8,297.7L430.1,294.3L428.8,290.1Z"/>
<path fill="#d3da6c" d="M407.0,302.7L411.2,301.0L414.5,298.5L417.9,295.2L421.2,296.8L422.9,299.4L423.7,304.4L422.1,308.6L419.5,311.9L415.4,312.8L412.8,310.2L410.3,306.9Z"/>
<path fill="#c0d077" d="M396.1,302.7L400.3,301.5L403.6,301.5L407.0,302.7L410.3,306.9L412.8,310.2L415.4,312.8L412.0,315.3L408.6,318.6L406.1,322.0L401.9,322.8L398.6,325.3L395.2,324.5L394.4,320.3L395.2,313.6L396.1,306.9Z"/>
<path fill="#8fb585" d="M371.8,299.7L383.5,299.9L391.1,300.2L396.1,301.0L400.3,300.7L404.0,301.0L403.6,301.7L400.3,301.5L396.1,302.7L396.1,306.9L395.2,313.6L394.4,320.3L393.9,326.2L392.7,330.4L390.2,331.2L387.7,329.5L385.2,330.4L380.2,332.0L371.8,306.9Z"/>
<path fill="#b3c97c" d="M385.2,330.4L387.7,329.5L390.2,331.2L392.7,330.4L393.9,326.2L394.4,322.0L395.2,324.5L398.6,325.3L401.9,322.8L406.1,322.0L408.6,318.6L412.0,315.3L415.4,312.8L419.5,311.9L420.4,313.6L421.2,318.6L420.4,323.6L422.1,326.2L427.1,328.7L427.1,348.8L383.5,348.8Z"/>
<path fill="#d3da6c" d="M418.4,322.8L420.4,322.3L420.7,325.7L418.7,325.7Z"/>
<path fill="#da9a50" d="M410.0,331.2L412.3,330.0L414.0,331.7L412.3,334.0L410.3,333.7Z"/>
</g>
<path fill="none" d="M336.0,160.9L340.2,162.1L345.2,160.9L350.3,159.2L357.0,158.0L365.4,157.5L367.0,157.0L370.0,156.7L372.1,158.4L371.2,161.7L372.4,165.1L373.7,168.4L372.1,170.9L374.6,169.8L380.4,170.9L387.1,174.3L391.3,176.0L393.8,172.6L396.4,170.1L400.5,169.3L404.7,170.9L405.6,172.6L410.6,172.6L417.3,171.8L424.0,172.6L405.0,172.1L408.4,172.6L411.7,173.5L415.1,172.6L418.4,173.0L421.4,173.3L420.8,177.0L423.5,182.2L424.3,184.4L426.8,190.2L430.2,196.9L432.7,201.9L434.4,207.0L434.4,205.0L436.9,209.2L440.2,214.2L444.4,219.2L446.9,221.8L448.6,224.3L448.1,225.9L450.3,227.3L455.3,229.8L458.6,231.8L462.0,227.6L464.5,223.8L466.7,223.4L466.2,227.6L464.5,232.6L462.0,238.5L457.8,244.4L452.8,249.4L447.8,254.4L443.9,259.5L441.1,264.5L439.4,269.5L440.5,275.1L441.8,280.1L442.2,285.1L441.8,291.8L440.5,296.0L437.1,299.4L432.9,302.7L428.8,306.1L426.2,309.4L425.4,313.6L425.1,318.6L423.7,322.8L422.1,326.2L421.2,330.4L421.7,326.4L419.9,330.2L416.7,335.2L411.6,340.3L405.4,344.0L397.8,345.3L391.5,345.8L388.3,342.8L387.8,336.5L386.5,331.5L385.2,330.4L383.2,325.3L381.5,319.5L379.8,313.6L377.6,307.7L376.0,302.7L375.1,298.5L375.5,293.5L376.8,288.5L378.5,283.4L379.8,278.4L379.3,273.4L377.6,269.2L376.0,265.0L377.4,272.0L375.4,268.7L372.9,264.5L370.4,261.1L369.0,256.9L370.4,252.8L371.2,249.4L369.5,246.1L367.9,242.7L364.5,243.5L361.2,242.2L359.5,239.4L356.1,238.5L351.9,239.4L347.8,240.5L342.7,241.5L337.7,241.0L333.5,242.2L331.0,243.2L327.6,241.9L324.3,239.4L320.9,236.0L317.6,231.8L315.1,227.6L312.6,224.3L310.4,221.8L309.2,219.2L308.7,215.1L310.1,210.4L310.1,210.3L310.9,205.3L310.4,200.3L311.4,197.8L312.6,194.4L315.1,190.2L317.6,186.0L320.9,181.8L324.3,178.5L326.8,175.1L328.5,170.9L330.2,166.8L332.7,164.2Z"/>
<path fill="#e2e266" d="M460.6,286.8L462.6,287.6L464.3,291.8L463.9,296.8L462.3,301.9L459.8,308.6L457.2,315.3L454.7,320.3L451.4,322.0L448.0,320.3L446.9,315.3L448.0,309.4L450.2,304.4L449.7,299.4L452.2,296.8L456.4,294.3L458.9,290.1Z"/>
<path fill="#ffffff" d="M487.3,382.5L490.8,382.0L490.8,384.5L487.8,385.0Z"/>
<g clip-path="url(#c2_0)">
<path fill="#dcae5a" d="M300.0,40.0L742.0,40.0L742.0,260.0L300.0,260.0Z"/>
<path fill="#e2e266" d="M515.1,125.2L582.9,124.7L585.5,121.4L586.7,117.6L591.7,116.4L596.8,118.9L603.1,123.9L610.6,127.7L618.1,130.2L623.2,128.9L624.4,135.2L623.2,140.2L621.9,142.8L630.7,145.3L630.7,203.1L500.0,203.1L500.0,145.3Z"/>
<path fill="#e0df68" d="M525.1,126.4L528.9,123.9L535.2,122.6L544.0,120.1L546.5,118.9L551.5,122.1L560.3,123.9L570.4,125.2L577.9,126.4L582.9,124.7L586.7,126.4L590.5,130.2L594.3,131.4L590.5,134.0L585.5,135.2L581.7,138.2L577.9,140.2L572.9,144.0L565.4,144.8L557.8,142.8L550.3,141.5L542.7,139.0L537.7,136.5L535.2,132.7L530.2,130.2Z"/>
<path fill="#d3da6c" d="M443.9,123.7L447.7,120.5L452.7,119.9L460.2,120.5L467.7,120.5L470.2,119.9L468.3,116.8L471.5,114.3L477.7,112.4L483.0,111.1L484.0,111.3L491.6,113.8L496.6,113.0L500.4,115.6L507.9,120.1L514.2,121.3L521.7,123.9L526.8,126.4L525.1,126.4L521.4,127.7L518.9,132.7L515.1,137.7L517.1,142.8L512.6,146.5L518.3,140.7L516.5,142.5L512.7,141.9L507.7,141.9L502.7,142.5L498.9,145.1L497.0,145.7L495.1,146.9L492.6,147.6L490.1,145.7L487.6,143.2L484.5,140.7L480.7,140.7L476.3,139.4L472.0,136.9L468.2,136.3L465.1,137.5L465.7,140.0L466.3,142.5L466.9,146.3L463.2,148.8L455.0,148.8L452.5,132.8L449.4,134.4L446.9,137.5L445.8,129.9L443.6,128.1Z"/>
<path fill="#ffffff" d="M616.7,146.5L620.4,142.7L624.2,142.7L626.7,142.7L626.7,147.7L623.4,150.7L626.7,154.8L621.7,155.3L619.2,154.0L615.4,151.5Z"/>
<path fill="#c6d472" d="M621.7,155.3L626.7,154.8L631.7,159.0L630.5,165.3L624.2,166.6L620.9,161.6Z"/>
<path fill="#e2e266" d="M510.7,165.0L509.5,162.5L507.6,160.7L505.1,159.4L504.4,161.9L503.2,165.0L503.8,168.2L501.9,170.7L498.8,172.6L496.3,174.4L495.7,176.9L491.9,177.6L488.1,176.9L485.6,179.5L487.5,183.2L489.4,185.7L487.5,187.6L487.5,193.9L512.6,193.9L517.6,175.1L515.1,166.3Z"/>
<path fill="#dca455" d="M567.1,181.7L569.6,184.2L570.5,188.4L573.8,191.8L568.8,190.4L571.7,193.4L573.8,196.3L576.8,198.0L578.0,199.2L575.9,201.3L573.8,203.0L572.1,204.7L571.3,206.8L572.6,209.7L573.4,211.8L574.7,215.1L575.9,218.5L576.8,221.8L577.2,225.0L576.8,218.4L576.3,222.5L575.9,225.9L574.2,225.9L568.4,215.0L563.8,215.2L557.1,198.5L558.8,195.1L561.3,191.8L562.9,187.6L564.6,184.2Z"/>
<path fill="#e2e266" d="M572.1,204.7L573.8,203.0L575.9,201.3L577.2,200.9L577.6,202.6L578.9,204.7L579.7,207.2L581.4,208.0L583.5,207.2L585.1,208.0L586.8,210.5L588.5,213.0L589.7,216.0L589.3,217.6L586.8,218.1L584.7,218.9L584.3,221.4L585.1,226.0L587.6,223.4L587.6,240.1L583.9,237.6L580.5,239.3L572.6,239.3L575.5,225.9L576.3,222.5L576.8,218.4L577.2,225.0L576.8,221.8L575.9,218.5L574.7,215.1L573.4,211.8L572.6,209.7L571.3,206.8Z"/>
<path fill="#dfc85e" d="M580.5,239.3L582.2,238.0L583.9,237.6L591.8,242.6L591.8,251.9L579.3,251.9Z"/>
<path fill="#e2e266" d="M578.0,199.2L579.7,197.1L581.4,197.1L583.0,199.2L585.1,200.5L586.8,202.6L586.4,204.7L588.5,206.8L590.6,209.7L592.7,212.2L594.8,215.1L595.6,218.1L593.5,217.6L592.3,216.8L591.0,218.1L589.7,216.0L588.5,213.0L586.8,210.5L585.1,208.0L583.5,207.2L581.4,208.0L579.7,207.2L578.9,204.7L577.6,202.6L577.2,200.9Z"/>
<path fill="#e2e266" d="M584.7,218.8L586.8,217.9L589.3,217.5L591.4,218.4L593.5,217.5L595.2,218.8L595.6,221.3L594.8,223.4L593.5,224.6L592.3,226.3L590.6,225.9L590.2,233.4L585.1,227.6L584.7,220.9Z"/>
<path fill="#e2e266" d="M582.2,195.4L585.1,195.0L586.8,193.8L588.9,194.6L591.0,196.7L592.7,198.4L597.7,198.4L605.2,215.1L605.2,226.0L605.2,223.4L593.5,236.8L590.2,233.4L590.6,225.9L592.3,226.3L593.5,224.6L594.8,223.4L595.6,221.3L595.2,218.8L596.0,222.7L595.2,220.2L595.6,218.1L594.8,215.1L592.7,212.2L590.6,209.7L588.5,206.8L586.4,204.7L586.8,202.6L585.1,200.5L583.0,199.2L581.4,197.1Z"/>
<path fill="#b3c97c" d="M510.7,165.0L514.5,163.8L518.2,162.5L520.1,164.4L522.0,167.5L523.2,170.7L525.7,173.2L528.3,175.7L530.3,180.1L537.0,182.6L543.7,185.1L547.0,185.9L547.9,183.4L552.1,183.4L554.6,180.9L558.8,179.2L563.8,178.4L567.1,181.7L564.6,184.2L562.9,187.6L561.3,191.8L558.8,195.1L557.1,200.2L547.0,237.0L521.9,240.4L500.1,196.8L503.2,192.0L505.7,191.4L508.8,190.1L506.9,187.0L505.7,183.8L508.2,181.3L510.7,178.2L512.0,175.1L513.2,171.9L512.0,168.2Z"/>
<path fill="#da9a50" d="M527.8,176.7L530.3,175.4L535.3,177.5L541.2,180.9L547.0,182.6L547.9,185.1L543.7,185.4L537.0,183.1L530.3,180.4Z"/>
<path fill="#d3da6c" d="M548.7,182.1L552.9,181.4L553.7,183.4L549.5,184.2Z"/>
<path fill="#c6d472" d="M548.7,187.6L552.1,188.4L555.4,187.6L557.9,190.1L557.1,193.5L557.1,198.5L550.4,200.2L549.5,193.5Z"/>
<path fill="#da9a50" d="M444.4,153.4L447.8,152.5L450.3,155.0L454.5,157.5L459.5,158.4L464.5,156.7L470.4,155.9L475.4,157.5L481.3,160.1L483.8,162.6L482.9,166.8L484.6,171.8L487.1,176.0L486.3,179.3L489.6,181.8L490.5,185.2L490.5,191.9L473.7,190.2L457.0,178.5L456.1,176.0L453.6,172.6L450.3,167.6L447.8,163.4L446.1,159.2L443.9,156.7Z"/>
<path fill="#ffffff" d="M463.2,148.8L466.9,146.3L470.7,143.8L473.8,144.1L477.0,145.7L480.1,147.6L483.9,150.1L487.6,153.2L490.8,155.1L492.0,156.3L490.1,157.8L487.6,159.5L485.7,161.6L483.9,162.4L482.0,160.1L479.5,158.2L476.3,157.0L472.6,155.7L468.8,155.1L465.7,156.1L463.8,157.3L463.2,157.0L463.8,155.1L462.6,151.9Z"/>
<path fill="#da9a50" d="M465.1,137.5L468.2,136.3L472.0,136.9L476.3,139.4L480.7,140.7L484.5,140.7L487.6,143.2L490.1,145.7L492.6,147.6L495.1,146.9L497.0,145.7L498.9,146.9L496.4,148.2L494.5,149.4L495.1,151.3L495.8,154.5L495.1,156.3L492.6,155.7L490.8,155.1L487.6,153.2L483.9,150.1L480.1,147.6L477.0,145.7L473.8,144.1L470.7,143.8L466.9,146.3L466.3,142.5L465.7,140.0Z"/>
<path fill="#c6d472" d="M498.9,145.1L502.7,142.5L507.7,141.9L512.7,141.9L516.5,142.5L515.2,145.1L511.4,146.9L508.3,148.2L505.2,148.8L502.0,149.4L498.9,149.4L497.7,148.2L500.8,147.6L498.9,146.9L497.0,145.7Z"/>
<path fill="#e2e266" d="M495.1,151.3L497.7,150.1L498.9,149.4L502.0,149.4L505.2,149.1L506.4,151.3L508.3,153.2L507.7,155.7L503.9,155.1L501.4,155.7L498.9,156.3L496.4,156.6L495.8,154.5Z"/>
<path fill="#e0d862" d="M483.9,162.4L485.7,161.6L487.6,159.5L490.1,157.8L492.0,156.3L495.1,156.3L496.4,156.6L498.9,156.3L501.4,155.7L503.9,155.1L507.7,155.7L510.2,155.1L508.3,157.3L504.4,157.5L505.1,159.4L504.4,161.9L503.2,165.0L503.8,168.2L501.9,170.7L498.8,172.6L496.3,174.4L495.7,176.9L491.9,177.6L488.1,176.9L485.6,179.5L484.4,175.1L483.8,170.1L482.5,165.7Z"/>
<path fill="#d3da6c" d="M406.3,148.1L410.1,146.6L413.8,147.1L418.2,146.5L422.6,145.6L427.0,145.9L431.4,147.1L435.7,146.5L439.5,145.9L441.4,146.6L444.5,147.5L443.9,150.0L445.1,153.1L445.1,155.4L440.1,158.4L431.4,160.6L402.5,159.4L402.5,149.4Z"/>
<path fill="#d3da6c" d="M404.4,143.7L408.2,143.7L408.8,146.2L406.3,147.1L404.8,145.6Z"/>
<path fill="#e2e266" d="M420.1,172.6L427.6,172.6L427.6,183.5L420.1,183.5Z"/>
<path fill="#c6d472" d="M425.1,160.9L427.6,160.9L433.5,159.2L438.5,158.4L439.4,161.7L436.0,165.1L433.5,168.8L431.0,170.9L427.6,169.8L425.1,169.8Z"/>
<path fill="#b9cc7a" d="M438.5,158.4L442.7,157.5L443.9,156.7L446.1,159.2L447.8,163.4L450.3,167.6L453.6,172.6L456.1,176.0L457.0,178.5L454.5,177.6L451.1,176.8L446.9,175.1L442.7,172.6L438.5,169.3L434.9,170.9L433.5,168.8L436.0,165.1L439.4,161.7Z"/>
<path fill="#b9cc7a" d="M425.1,177.6L428.5,177.6L431.0,176.0L431.8,172.6L434.9,170.9L438.5,169.3L442.7,172.6L446.9,175.1L451.1,176.8L454.5,178.8L457.8,182.7L461.2,186.9L463.3,189.4L466.2,193.6L468.7,194.4L473.7,197.8L472.1,201.9L467.9,205.3L462.8,207.0L457.8,208.6L453.6,209.5L450.3,211.2L447.8,210.3L445.2,217.0L425.1,191.9Z"/>
<path fill="#da9a50" d="M426.8,173.5L431.0,170.9L433.5,168.8L434.9,170.9L431.8,172.6L431.0,176.0L428.5,177.6L426.5,177.6Z"/>
<path fill="#c8232d" d="M425.1,169.8L426.8,169.8L427.1,173.5L426.5,176.8L425.1,173.5Z"/>
<path fill="#da9a50" d="M454.0,176.8L457.0,176.5L457.0,179.3L454.5,178.8Z"/>
<path fill="#e2e266" d="M447.8,210.3L450.3,211.2L453.6,209.5L457.8,208.6L462.8,207.0L467.9,205.3L470.4,210.3L466.2,217.0L449.4,222.1L445.2,217.0Z"/>
<path fill="#c8232d" d="M467.9,205.3L472.1,201.9L473.7,197.8L474.6,194.4L475.1,191.1L476.2,187.7L487.1,193.6L483.8,205.3L470.4,212.0Z"/>
<path fill="#da9a50" d="M466.2,193.2L466.2,191.9L472.9,188.5L475.1,186.9L476.2,187.7L475.1,191.1L474.6,194.4L473.7,197.8L468.7,194.4Z"/>
<path fill="#c8232d" d="M474.7,186.0L476.2,186.5L475.7,188.5L474.7,188.2Z"/>
<path fill="#da9a50" d="M463.0,186.5L465.4,186.2L465.4,190.6L463.3,190.2Z"/>
<path fill="#d4623e" d="M433.9,140.8L438.3,141.8L442.6,143.7L446.4,145.0L447.4,146.2L444.5,147.1L441.4,146.4L438.9,145.4L435.7,143.7L433.2,142.5Z"/>
<path fill="#dcb458" d="M442.6,147.1L444.5,147.1L445.8,147.1L447.0,149.4L445.8,150.6L443.9,150.0Z"/>
<path fill="#b9cc7a" d="M445.1,147.1L447.4,146.2L450.2,146.9L453.9,148.7L453.3,151.2L450.2,152.1L448.3,150.0L447.0,149.4Z"/>
<path fill="#da984f" d="M395.6,121.2L398.1,119.9L405.0,119.9L410.7,119.3L415.1,118.7L419.5,121.2L424.5,123.0L428.9,124.9L429.9,127.4L428.2,129.9L427.6,131.8L427.6,134.9L420.1,134.9L419.5,132.4L416.9,133.1L414.4,133.7L411.3,134.3L408.8,136.2L407.5,133.1L405.7,129.9L403.2,128.7L398.8,128.7L395.0,128.1L393.8,125.5L395.0,123.0Z"/>
<path fill="#dcb458" d="M395.6,119.9L397.5,115.5L401.3,112.4L405.0,109.9L408.2,111.8L410.7,114.9L412.6,116.8L410.1,118.7L405.0,119.9L398.1,119.9L395.6,121.2Z"/>
<path fill="#c6d472" d="M403.2,128.7L405.7,129.6L408.2,133.1L408.8,135.6L407.5,134.9L405.7,131.8Z"/>
<path fill="#e2e266" d="M391.3,131.8L395.0,128.7L398.8,129.1L403.2,129.1L405.7,131.8L407.5,134.9L409.4,136.2L410.7,137.5L408.8,138.7L406.9,139.3L402.5,138.7L397.5,139.3L394.4,138.1L391.9,134.9Z"/>
<path fill="#e2e266" d="M394.4,138.7L397.5,139.6L402.5,139.1L406.9,139.6L408.8,139.3L408.8,144.3L403.2,145.0L399.4,145.6L396.9,145.6L395.0,143.1Z"/>
<path fill="#d3da6c" d="M353.5,95.2L387.0,71.8L400.4,73.4L399.5,76.8L397.0,78.1L396.2,77.6L392.0,76.8L387.8,77.6L386.1,80.1L383.6,79.3L379.4,80.1L376.1,83.5L373.9,87.7L372.7,91.9L371.1,95.2L371.1,98.9L371.1,101.9L363.5,106.9L353.5,103.6Z"/>
<path fill="#da9a50" d="M387.8,78.5L389.5,81.8L388.6,85.2L397.0,85.2L385.3,98.6L380.3,112.8L372.7,112.8L371.1,101.1L371.1,98.9L371.1,95.2L372.7,91.9L373.9,87.7L376.1,83.5L379.4,80.1L383.6,79.3L386.1,80.1Z"/>
<path fill="#dcb458" d="M387.8,78.5L392.0,76.8L396.2,77.6L397.0,79.3L398.7,82.6L401.2,86.8L402.9,91.0L405.1,94.4L402.1,97.7L397.9,101.1L387.0,101.1L385.3,91.9L390.3,86.8L389.5,81.8Z"/>
<path fill="#dca455" d="M392.0,101.1L397.0,100.6L401.2,101.9L402.1,105.3L397.0,105.3L392.8,105.3L390.3,103.6Z"/>
<path fill="#d3da6c" d="M387.0,106.9L393.7,104.9L397.0,105.6L402.1,105.6L403.7,109.0L400.4,110.0L396.2,109.0L392.0,109.5L387.0,109.5Z"/>
<path fill="#dcb458" d="M387.8,109.5L392.3,109.8L396.2,109.3L400.4,110.3L401.2,112.0L398.7,114.0L395.4,114.5L392.3,112.8L387.8,112.0Z"/>
<path fill="#dcae5a" d="M386.1,112.0L390.0,112.0L392.3,113.1L387.8,114.0L386.1,113.6Z"/>
<path fill="#d3da6c" d="M377.1,114.9L380.9,111.8L385.9,111.1L392.2,113.0L394.7,114.9L395.9,118.7L396.6,121.8L394.7,124.9L391.6,126.2L387.8,126.2L385.3,126.2L384.7,124.3L381.5,122.4L377.8,121.8L377.8,118.7Z"/>
<path fill="#dca455" d="M362.7,115.5L365.2,112.4L369.6,111.8L373.4,113.0L376.5,113.6L377.1,114.9L377.8,118.7L377.1,121.8L374.6,123.0L373.4,124.9L375.3,126.8L377.1,128.7L374.6,130.6L371.5,130.3L368.4,130.6L365.2,131.2L364.0,128.1L361.5,125.5L361.5,121.2L362.1,118.7Z"/>
<path fill="#da9a50" d="M362.7,106.9L366.0,104.4L369.4,105.3L369.4,112.8L366.0,113.3L363.5,112.0Z"/>
<path fill="#cf6241" d="M354.6,121.2L357.7,118.0L360.2,114.9L362.7,114.3L362.7,115.5L362.1,118.7L361.5,121.2L361.5,125.5L360.9,125.5L357.7,124.3L355.8,122.4Z"/>
<path fill="#cc4a3a" d="M338.3,128.7L344.6,126.2L348.9,124.3L351.5,122.4L355.8,121.8L357.7,124.3L360.9,125.5L364.0,128.1L365.2,131.2L363.4,133.1L362.7,134.9L364.0,138.1L364.0,141.8L356.5,143.1L354.6,145.0L352.1,143.1L347.1,141.8L342.7,140.8L340.8,140.8L337.0,133.1Z"/>
<path fill="#c8232d" d="M327.0,141.8L333.3,140.0L338.3,140.3L342.7,140.8L347.1,141.8L352.1,143.1L355.8,144.6L352.1,149.4L342.1,160.6L335.2,159.4L334.3,154.4L334.5,149.4L333.9,145.6L330.8,145.0L327.0,145.0Z"/>
<path fill="#d67a45" d="M327.0,145.0L330.5,145.0L333.9,145.6L334.5,149.4L334.3,154.4L333.0,158.1L327.0,158.1Z"/>
<path fill="#dca455" d="M362.7,131.8L365.2,131.2L368.4,130.6L369.6,132.4L367.7,133.7L365.2,134.3L363.1,133.7Z"/>
<path fill="#d67a45" d="M369.6,132.4L368.4,130.6L371.5,130.3L374.6,130.6L377.1,128.7L380.3,128.1L382.8,129.3L382.2,131.2L380.3,133.1L377.1,133.7L374.0,133.1L371.5,132.7Z"/>
<path fill="#c8232d" d="M373.4,124.9L374.6,123.0L377.8,121.8L381.5,122.4L384.7,124.3L385.3,126.2L382.8,127.4L379.7,127.8L377.1,128.3L375.3,126.8Z"/>
<path fill="#d3da6c" d="M385.3,126.5L387.8,126.2L391.6,126.2L394.7,125.3L394.1,127.8L390.9,128.7L387.2,129.3L384.0,129.6L383.2,128.3Z"/>
<path fill="#dca455" d="M382.8,129.6L384.0,129.9L387.2,129.6L390.9,128.9L394.1,128.1L395.3,129.6L393.4,132.4L389.7,134.1L385.9,134.6L383.4,133.1L382.2,131.6Z"/>
<path fill="#d3da6c" d="M363.6,138.1L365.2,134.6L367.7,133.9L369.6,132.7L371.5,132.7L374.0,133.3L377.1,133.9L377.8,135.8L375.3,137.1L374.6,139.3L392.2,150.6L382.2,158.1L362.1,140.6Z"/>
<path fill="#b9cc7a" d="M377.1,133.9L380.3,133.3L382.2,131.6L383.4,133.3L385.9,134.8L389.1,134.6L388.4,136.6L388.4,141.8L390.3,144.3L384.7,144.3L377.1,136.8Z"/>
<path fill="#d3da6c" d="M389.1,134.6L393.4,132.7L395.3,134.9L397.2,138.1L395.9,140.6L394.1,141.8L391.6,140.8L389.7,139.3L388.4,136.8Z"/>
<path fill="#d3da6c" d="M388.4,141.8L389.7,139.3L391.6,140.8L394.1,141.8L393.4,142.8L390.7,143.7L389.1,144.3L387.8,143.1Z"/>
<path fill="#c8232d" d="M388.4,143.1L390.3,142.8L390.9,144.6L390.3,146.6L388.4,146.2L387.8,144.3Z"/>
<path fill="#d3da6c" d="M390.7,143.7L393.4,142.5L395.9,143.7L395.3,145.0L394.1,145.6L391.6,146.0Z"/>
<path fill="#dca455" d="M389.7,146.5L391.6,146.0L394.1,145.6L395.9,144.3L399.7,144.1L403.5,143.7L403.5,146.9L399.7,146.9L402.2,158.1L397.2,159.4L389.7,149.4Z"/>
</g>
<path fill="none" d="M421.3,173.5L420.9,176.8L424.1,181.7L425.0,182.2L426.0,179.3L426.5,178.2L427.0,178.8L428.8,185.0L432.7,189.4L436.0,195.2L439.4,200.3L443.2,205.3L445.2,209.5L446.9,214.5L447.8,217.0L449.4,220.0L454.5,218.7L460.3,216.2L466.2,212.8L469.5,209.5L470.4,210.3L474.6,208.6L478.8,205.3L481.3,201.9L483.8,197.8L482.9,194.4L479.6,192.7L476.2,189.4L475.1,187.2L472.9,189.4L469.5,191.9L466.2,193.2L465.7,191.1L465.0,186.5L463.3,186.9L463.3,189.4L461.2,186.9L457.8,182.7L456.1,178.8L456.1,176.5L457.0,175.1L459.5,175.1L462.8,177.6L466.2,181.0L470.4,182.7L475.4,184.4L476.2,187.7L479.6,186.9L483.8,188.5L488.0,187.7L490.5,188.5L493.4,188.4L498.4,189.3L503.5,191.8L505.1,194.3L507.6,197.6L511.0,200.2L514.4,199.3L515.2,203.5L516.9,208.5L519.4,214.4L521.9,220.3L524.4,226.1L526.9,231.2L529.4,233.3L531.9,230.3L533.3,223.6L533.6,217.8L536.1,213.6L539.5,209.4L543.7,204.4L547.0,201.0L550.4,198.5L553.7,196.8L556.2,195.1L557.9,197.6L559.6,200.2L562.1,203.5L564.6,208.5L566.3,212.7L568.8,211.9L571.3,209.4L570.9,211.4L572.6,215.1L573.8,218.5L575.1,221.8L575.9,225.0L573.8,218.4L575.1,221.7L575.5,225.1L575.2,228.4L575.1,231.8L575.5,233.9L577.2,235.1L578.9,236.8L580.1,238.9L580.5,241.0L581.4,243.9L583.0,247.3L585.1,249.4L587.2,251.2L588.9,251.2L589.3,250.0L588.5,246.4L587.6,243.5L586.8,241.0L585.6,239.3L583.9,237.6L582.2,236.4L580.5,234.7L579.3,232.6L578.0,230.5L576.8,228.4L577.2,225.9L578.0,223.4L578.4,220.2L579.7,219.6L580.5,220.9L581.8,221.7L583.9,222.1L584.7,223.0L585.6,223.4L586.8,226.3L588.9,227.1L590.6,228.4L590.6,230.5L591.4,232.2L593.1,230.9L595.6,228.8L598.1,226.7L600.2,224.2L600.6,221.7L599.8,218.4L599.4,223.5L599.8,220.2L599.0,216.8L597.3,213.9L595.2,211.4L592.7,208.9L590.6,206.8L589.3,204.7L589.7,202.6L591.4,200.5L592.7,198.4L594.4,198.0L596.9,198.8L598.1,198.4L598.5,200.9L600.0,201.1L600.2,198.8L601.9,198.0L605.2,197.1L608.6,195.9L611.9,194.2L615.3,191.7L617.0,190.0L619.9,182.9L620.9,176.6L617.9,171.6L614.1,166.6L609.1,162.8L610.4,159.0L614.1,156.5L611.6,154.0L605.9,155.3L602.8,152.8L605.9,149.7L609.1,148.2L611.6,150.2L616.7,146.5L616.7,151.5L619.2,154.0L621.7,155.3L622.4,161.6L625.5,164.8L629.2,163.3L630.0,159.0L626.7,154.8L623.4,151.5L623.4,146.5L624.2,142.7L625.5,142.7L630.5,138.9L633.0,132.6L631.7,126.4L628.0,120.1L622.9,115.1L615.4,112.5L611.3,111.6L615.1,102.8L623.9,100.3L632.7,102.8L636.4,101.6L642.7,100.3L640.2,96.6L642.7,94.0L646.5,96.6L645.2,101.6L647.7,106.6L651.5,111.6L656.5,116.7L661.6,121.7L662.8,115.4L660.3,110.4L656.5,106.6L652.8,102.8L656.5,100.3L662.8,99.1L666.6,94.8L672.9,93.3L666.6,89.0L659.1,84.0L651.5,79.0L641.5,77.2L631.4,79.0L618.8,77.7L608.8,75.2L598.7,73.9L586.2,72.7L576.1,71.4L571.1,70.2L566.1,72.2L556.0,71.4L545.8,69.7L535.8,68.9L527.0,67.6L523.2,63.9L513.2,62.6L503.1,61.4L493.1,63.9L484.3,65.1L479.2,67.1L476.7,71.4L469.2,72.7L470.4,81.5L465.4,80.2L466.7,75.2L464.1,70.2L459.1,71.4L457.9,76.4L450.3,77.7L440.3,79.0L431.5,80.2L427.7,81.5L423.9,80.2L422.7,85.2L418.8,86.8L417.1,87.7L413.8,90.2L410.4,88.5L407.9,86.8L407.1,84.8L413.8,86.0L416.3,86.0L418.0,83.5L415.5,81.0L410.4,79.3L403.7,78.1L399.5,77.1L397.0,75.1L392.8,74.3L387.8,75.1L381.9,76.4L376.9,78.5L371.9,81.8L367.7,85.2L363.5,89.4L359.3,92.7L357.6,95.2L357.6,99.4L359.3,102.8L362.7,104.4L366.0,103.6L369.4,101.9L371.1,101.1L371.9,105.3L373.2,108.6L375.2,111.1L377.8,109.5L379.4,106.1L380.3,102.8L381.9,99.4L380.3,96.1L381.1,92.7L383.6,90.2L386.1,87.7L388.6,85.2L389.8,82.1L392.3,85.2L391.2,87.7L388.6,91.0L387.8,95.2L389.5,98.6L392.8,99.9L397.9,99.4L402.1,97.7L402.1,98.9L399.5,99.9L397.0,101.1L392.8,101.9L393.7,104.4L389.5,106.9L389.5,109.0L389.5,112.0L387.0,112.0L381.9,112.8L377.8,114.5L372.7,112.8L369.4,113.6L368.5,109.5L368.2,106.1L366.0,105.3L364.4,106.9L364.9,111.1L366.0,112.8L362.7,116.2L360.2,116.2L356.8,119.5L355.1,122.9L355.8,121.8L351.5,123.0L348.9,125.5L344.6,127.4L340.2,128.7L340.8,131.2L343.3,133.1L343.9,137.5L342.7,140.8L338.3,140.8L333.3,140.8L329.8,141.8L330.5,145.0L329.8,148.1L329.3,152.5L330.1,157.1L333.0,157.5L335.2,158.1L338.3,159.4L342.1,158.1L345.8,155.6L348.3,152.5L349.6,149.4L352.1,146.9L354.3,144.6L356.5,141.8L360.2,140.8L363.4,140.6L364.0,138.3L365.9,139.3L368.4,138.7L371.1,140.0L373.4,143.1L376.5,146.2L379.7,148.7L381.9,151.9L380.9,154.4L382.2,155.6L384.0,152.5L384.4,150.0L386.2,151.2L387.2,150.0L384.7,147.5L381.5,145.0L378.4,141.8L375.9,139.3L375.3,136.8L377.8,135.8L380.3,137.1L382.2,138.1L384.7,140.0L387.8,143.1L389.1,144.3L388.4,145.4L389.7,146.5L390.7,147.9L392.2,148.7L394.1,151.2L395.9,154.4L398.5,157.5L400.3,156.9L399.1,153.1L397.0,150.4L398.5,149.4L397.2,146.9L399.7,146.2L402.2,145.0L403.2,145.0L405.0,144.3L406.3,146.9L406.0,151.2L407.5,153.7L410.1,156.3L416.8,158.7L423.5,159.2L427.6,159.7L427.1,165.1L426.5,169.8L425.5,173.3Z"/>
<path fill="#ffffff" d="M408.8,136.2L411.3,134.3L414.4,133.9L416.9,133.3L419.5,132.7L420.7,134.3L422.0,134.9L425.1,135.3L427.6,133.7L427.6,131.8L428.9,133.1L430.7,137.5L433.5,140.6L435.5,143.3L439.1,145.5L435.7,146.2L431.4,146.9L427.0,145.6L422.6,145.4L418.2,146.2L413.8,146.9L410.1,146.2L408.2,143.7L408.8,139.3Z"/>
<path fill="#da984f" d="M420.7,133.1L423.8,132.4L427.0,133.7L425.1,134.9L422.0,134.6Z"/>
<path fill="#ffffff" d="M446.9,137.5L449.4,134.4L452.5,132.8L456.3,132.5L458.5,134.0L457.5,136.3L454.8,137.5L455.0,140.0L457.5,142.5L460.1,144.4L461.9,146.3L463.2,148.8L462.6,151.9L463.8,155.1L463.2,157.0L460.1,157.3L457.5,156.1L455.7,154.5L454.4,151.9L454.0,148.8L452.5,146.3L450.7,143.8L448.8,141.9L447.3,139.8Z"/>
<g clip-path="url(#c3_0)">
<path fill="#dfc85e" d="M590.0,230.0L640.0,230.0L640.0,270.0L590.0,270.0Z"/>
<path fill="#d3da6c" d="M600.3,247.9L609.1,242.8L615.4,235.3L625.5,235.3L625.5,244.1L620.4,245.9L614.1,248.4L609.1,247.4L604.1,249.9Z"/>
</g>
<path fill="none" d="M600.3,252.9L604.1,249.1L609.1,245.9L612.9,241.6L616.7,238.3L620.4,237.3L624.2,240.3L622.9,244.1L623.4,247.9L622.4,254.1L619.2,259.2L615.4,262.9L610.4,264.2L604.1,262.4L601.6,257.9Z"/>
<g clip-path="url(#c3_1)">
<path fill="#dfc85e" d="M640.0,250.0L700.0,250.0L700.0,290.0L640.0,290.0Z"/>
<path fill="#dfc85e" d="M675.7,255.4L700.9,255.4L700.9,285.6L676.2,285.6Z"/>
</g>
<path fill="none" d="M651.9,257.9L656.9,256.7L661.9,259.9L666.9,259.2L672.0,260.4L675.7,261.7L680.8,264.2L685.8,266.7L690.8,269.2L688.3,271.7L692.1,276.8L695.8,280.5L690.8,280.0L685.8,276.8L680.8,276.8L676.2,278.0L672.0,276.8L668.2,274.3L669.4,270.5L665.7,268.0L660.6,266.7L658.1,262.9L654.4,260.9Z"/>
<path fill="#da8a4a" d="M329.3,116.1L330.8,113.0L333.9,111.5L337.0,112.0L337.7,114.3L336.4,117.4L333.9,119.3L330.8,119.9Z"/>
<path fill="#da8a4a" d="M337.5,104.4L340.1,102.8L343.1,104.4L342.1,107.8L344.2,108.6L345.9,112.0L348.4,114.5L350.4,117.8L351.4,121.2L349.3,122.9L345.9,123.7L341.7,123.7L339.2,122.9L341.7,121.2L340.4,119.5L341.7,116.2L339.2,115.3L340.1,112.0L338.4,109.5L337.0,106.9Z"/>
<path fill="#da8a4a" d="M334.5,111.1L336.8,110.3L337.7,111.8L336.0,113.0Z"/>
<path fill="#d3da6c" d="M375.9,155.6L378.4,155.4L380.9,155.9L380.3,157.9L377.1,157.5Z"/>
<path fill="#d3da6c" d="M366.5,147.9L369.0,147.5L369.4,151.2L367.1,152.1Z"/>
<path fill="#cc4a3a" d="M367.1,142.8L368.1,142.5L368.4,145.6L367.4,145.9Z"/>
<path fill="#dca455" d="M400.8,161.4L405.0,161.7L405.0,162.7L400.8,162.4Z"/>
<path fill="#a09a3c" d="M419.3,162.1L422.6,161.4L423.1,163.1L419.8,163.7Z"/>
<path fill="#da9a50" d="M370.2,109.5L372.7,109.0L372.7,111.6L370.7,111.6Z"/>
<path fill="#ffffff" d="M363.5,57.0L368.5,55.8L374.4,56.3L380.3,55.0L387.8,55.8L386.1,58.4L380.3,59.2L376.1,61.7L371.1,62.5L367.7,60.0Z"/>
<path fill="#dcae5a" d="M432.6,70.9L434.7,66.7L440.6,63.4L447.3,62.0L454.0,61.7L453.2,63.4L447.3,64.2L442.3,65.9L438.9,69.2L440.6,72.6L443.9,74.8L437.2,73.8L433.6,73.1Z"/>
<path fill="#dcae5a" d="M479.2,55.1L486.8,54.6L494.3,57.1L491.8,58.9L484.3,57.1Z"/>
<path fill="#dcae5a" d="M495.6,57.6L503.1,58.9L504.4,60.6L498.1,60.1Z"/>
<path fill="#dcae5a" d="M560.4,63.9L568.5,63.4L574.7,65.1L571.0,66.4L563.4,65.9Z"/>
<path fill="#333" d="M412.6,55.1L421.4,54.6L421.4,55.8L413.1,56.3Z"/>
<path fill="#dcae5a" d="M625.9,113.6L630.1,117.9L635.2,124.2L640.2,129.2L641.5,131.7L637.7,128.5L632.7,124.2L628.4,118.4Z"/>
<path fill="#d3da6c" d="M643.1,137.7L648.1,136.4L653.1,140.2L650.6,144.0L646.8,145.2L643.6,142.7Z"/>
<path fill="#d3da6c" d="M646.8,146.5L650.6,147.7L653.6,154.0L655.1,160.3L651.9,164.1L646.8,165.3L641.8,167.8L636.8,166.6L633.5,167.8L635.5,164.8L640.5,162.3L645.6,159.0L647.6,154.0Z"/>
<path fill="#d3da6c" d="M633.5,168.3L638.0,168.3L639.3,172.4L636.0,173.4L634.3,170.9Z"/>
<path fill="#c6d472" d="M620.9,189.2L623.4,190.0L622.9,195.5L620.9,196.7L619.9,193.0Z"/>
<path fill="#e2e266" d="M597.3,202.5L600.3,201.8L600.8,205.5L598.3,206.8Z"/>
<path fill="#d3da6c" d="M533.3,230.3L535.3,229.0L537.3,232.0L537.8,236.2L536.1,239.0L533.6,237.9L532.8,233.7Z"/>
<path fill="#da9a50" d="M623.4,207.6L626.7,205.9L629.2,208.9L628.5,213.9L631.0,217.7L634.3,219.0L636.8,221.5L634.3,222.7L630.5,220.2L628.0,221.5L625.5,217.7L624.2,212.7Z"/>
<path fill="#da9a50" d="M629.2,225.2L632.5,224.7L633.5,227.8L630.0,228.3Z"/>
<path fill="#da9a50" d="M634.3,225.2L637.5,226.5L636.8,230.3L635.0,229.0Z"/>
<path fill="#da9a50" d="M631.7,234.0L635.5,231.5L639.3,229.8L641.0,234.0L640.0,239.1L637.5,240.3L635.5,237.3L632.5,236.6Z"/>
<path fill="#da9a50" d="M619.9,232.3L624.2,225.7L625.0,226.8L620.9,233.3Z"/>
<path fill="#dfc85e" d="M568.9,240.3L573.9,241.6L580.2,246.6L586.5,252.9L591.5,260.4L594.0,266.7L593.3,270.5L589.0,268.0L584.0,261.7L579.0,255.4L573.9,247.9L570.2,244.1Z"/>
<path fill="#dfc85e" d="M592.8,271.7L599.1,271.0L606.6,273.0L614.1,275.0L615.4,276.8L609.1,276.8L601.6,275.5L594.0,274.3Z"/>
<path fill="#dfc85e" d="M618.4,276.8L622.9,276.0L623.4,278.0L618.9,278.5Z"/>
<path fill="#dfc85e" d="M625.5,276.8L630.5,276.0L630.5,278.0L626.0,278.5Z"/>
<path fill="#dfc85e" d="M634.3,279.3L641.8,276.8L642.6,278.5L635.5,281.0Z"/>
<path fill="#dfc85e" d="M625.5,254.1L630.5,252.4L636.8,251.6L638.5,252.9L633.0,254.9L629.2,256.7L633.0,259.2L636.8,261.7L631.7,261.7L630.5,265.5L633.0,269.2L630.0,269.2L628.0,265.5L625.5,268.0L624.2,264.2L626.0,259.2Z"/>
<path fill="#dfc85e" d="M644.3,250.4L646.1,249.9L646.8,255.4L644.8,255.9Z"/>
<path fill="#dfc85e" d="M641.8,262.9L650.6,261.7L651.1,263.7L642.6,264.7Z"/>
<path fill="#dfc85e" d="M692.1,269.2L697.1,268.0L700.9,264.2L699.6,261.7L702.1,262.9L702.9,266.7L698.4,270.0L693.3,271.0Z"/>
<path fill="#dfc85e" d="M705.9,269.2L709.7,271.7L708.9,272.7L705.4,270.5Z"/>
<path fill="#dfc85e" d="M712.2,273.5L715.9,275.5L715.2,276.5L711.7,274.5Z"/>
<path fill="#dfc85e" d="M717.2,276.8L721.5,279.3L720.7,280.3L716.7,277.8Z"/>
<path fill="#d3da6c" d="M605.0,312.7L615.1,308.9L623.9,306.4L628.9,300.1L636.4,293.9L642.7,291.3L647.7,293.9L651.5,286.3L656.5,285.1L662.8,287.6L660.3,292.6L664.1,296.4L670.4,300.1L672.9,293.9L675.4,285.1L677.2,283.8L679.2,291.3L681.7,300.1L686.7,306.4L689.2,314.0L693.0,320.2L691.7,327.8L689.2,334.1L684.2,340.4L679.2,345.4L674.1,350.4L667.9,354.2L662.8,354.9L659.1,356.7L655.3,354.2L651.5,352.9L651.0,349.1L649.0,346.6L651.5,342.4L647.7,345.4L644.0,342.9L636.4,339.1L628.9,339.8L621.4,342.9L615.1,345.4L607.5,346.6L602.5,345.4L601.2,342.9L605.0,336.6L606.3,329.0L603.8,322.8L605.0,316.5Z"/>
<path fill="#d3da6c" d="M655.3,362.5L660.3,361.7L663.6,363.0L661.1,366.7L656.5,368.5L654.5,366.0Z"/>
<path fill="#d3da6c" d="M726.9,345.4L728.9,349.1L728.2,352.9L733.2,354.2L730.7,357.9L725.7,361.7L721.9,363.0L719.4,361.7L722.4,357.9L724.9,354.2L726.4,350.4Z"/>
<path fill="#d3da6c" d="M716.9,361.7L719.4,363.0L715.6,366.7L709.3,370.0L701.8,373.5L695.5,376.0L693.0,374.3L698.0,371.8L705.6,368.0L711.8,364.2Z"/>
<path fill="#d3da6c" d="M721.9,307.2L724.4,308.9L727.7,312.7L725.7,312.7L723.1,310.2Z"/>
<path fill="#d3da6c" d="M730.7,293.1L731.9,293.9L732.4,298.1L731.2,297.6Z"/>
</svg>
</body></html>
